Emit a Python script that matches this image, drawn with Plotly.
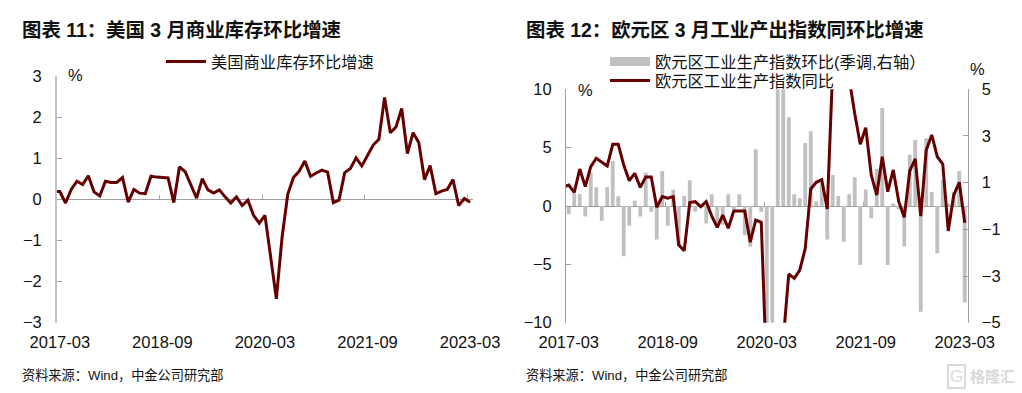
import plotly.graph_objects as go

W, H = 1022, 393
FONT = "Liberation Sans, Noto Sans CJK SC, sans-serif"
INK = "#111111"
MAROON = "#660000"
GREY_BAR = "#c0c0c0"
AXIS = "#a0a0a0"

# 2017-02 sits just left of the axis: only the clipped stub of the line shows.
months = [f"{y}-{m:02d}" for y in range(2017, 2024) for m in range(1, 13)][1:75]
tick_labels = ["2017-03", "2018-09", "2020-03", "2021-09", "2023-03"]

us_inventory_mom = [
    0.19,
    0.19, -0.09, 0.24, 0.44, 0.36, 0.57, 0.18, 0.08, 0.44, 0.41,
    0.41, 0.53, -0.07, 0.24, 0.15, 0.14, 0.56, 0.54, 0.53, 0.52,
    -0.08, 0.79, 0.67, 0.34, 0.03, 0.50, 0.23, 0.15, 0.23, 0.06,
    -0.09, 0.06, -0.15, -0.02, -0.39, -0.58, -0.39, -1.40, -2.42, -0.93,
    0.12, 0.53, 0.68, 0.93, 0.56, 0.64, 0.71, 0.66, -0.08, -0.02,
    0.65, 0.75, 1.01, 0.81, 1.05, 1.32, 1.46, 2.48, 1.62, 1.76,
    2.21, 1.11, 1.62, 1.38, 0.48, 0.82, 0.14, 0.20, 0.24, 0.48,
    -0.15, 0.02, -0.07,
]
ea_ip_mom = [
    None,
    -0.35, 0.55, 0.50, -0.45, 1.45, 0.80, -0.63, 0.80, 1.93, 0.42,
    -2.15, -0.85, 0.22, -0.45, 1.42, -0.25, -1.43, 1.50, -0.85, 0.70,
    -1.70, 0.43, 1.10, -0.25, 0.02, -0.75, 0.50, -0.75, -0.80, 0.50,
    -0.15, 0.50, -1.25, -1.75, 2.43, -0.25, -6.00, -6.00, 6.00, 6.00,
    3.80, 0.50, 0.33, 2.70, 3.20, 0.20, 1.00, -1.43, 1.33, 0.43,
    -1.53, 0.50, 1.23, -2.53, 0.71, -0.53, 1.60, 4.20, -2.53, 0.11,
    -0.13, -1.73, 2.20, 2.83, -4.53, 2.90, 0.60, -2.03, 1.10, 0.10,
    0.60, 1.50, -4.13,
]
ea_ip_yoy = [
    1.60,
    1.80, 1.17, 3.17, 1.66, 3.37, 4.09, 3.74, 3.43, 5.29, 5.29,
    3.51, 2.17, 2.80, 1.60, 2.49, 2.49, -0.11, 0.80, 0.66, 0.80,
    -3.34, -3.83, 0.29, 0.37, -0.06, 0.37, -0.86, -1.83, -0.77, -1.91,
    -0.43, -0.43, -0.43, -3.10, -1.20, -1.40, -12.90, -28.00, -20.50, -11.50,
    -5.83, -6.20, -5.49, -3.63, 1.46, 2.03, 2.26, -0.26, 11.90, 20.00,
    20.00, 10.90, 7.90, 5.29, 6.71, 2.66, 0.94, 4.23, 1.23, 3.09,
    0.37, -0.97, 3.00, 4.03, -0.86, 4.80, 6.09, 4.23, 3.60, -2.14,
    0.94, 2.03, -1.43,
]

def px(x):
    return x / W

def py(y):
    return 1 - y / H

L = dict(x0=57, x1=472.9, top=76, bot=322.6, zero=199.3)
R = dict(x0=566, x1=967.5, top=89.3, bot=322.7, zero=206)
X_RANGE = [0.5, 73.5]

fig = go.Figure()

# Left chart
fig.add_trace(go.Scatter(x=months, y=us_inventory_mom, name="美国商业库存环比增速",
                         mode="lines", xaxis="x2", yaxis="y",
                         line=dict(color=MAROON, width=3), legend="legend"))
fig.add_trace(go.Scatter(x=months, y=[None] * len(months), xaxis="x", yaxis="y",
                         showlegend=False, hoverinfo="skip"))

# Right chart: bars on right axis first so that the line stays above them
fig.add_trace(go.Bar(x=months, y=ea_ip_mom, xaxis="x3", yaxis="y3",
                     marker=dict(color=GREY_BAR, line_width=0), showlegend=False))
fig.add_trace(go.Scatter(x=[None], y=[None], xaxis="x3", yaxis="y3", mode="lines",
                         name="欧元区工业生产指数环比(季调,右轴）",
                         line=dict(color=GREY_BAR, width=9), legend="legend2"))
fig.add_trace(go.Scatter(x=months, y=[None] * len(months), xaxis="x4", yaxis="y3",
                         showlegend=False, hoverinfo="skip"))
fig.add_trace(go.Scatter(x=months, y=ea_ip_yoy, name="欧元区工业生产指数同比",
                         mode="lines", xaxis="x3", yaxis="y4",
                         line=dict(color=MAROON, width=3), legend="legend3"))

tick_font = dict(family=FONT, size=16.5, color=INK)
label_vals = [months[i] for i in range(1, 74, 18)]

def label_axis(c):
    return dict(type="category", categoryorder="array", categoryarray=months,
                domain=[px(c["x0"]), px(c["x1"])], range=X_RANGE,
                tickmode="array", tickvals=label_vals, ticktext=tick_labels,
                ticks="", showline=False, showgrid=False, zeroline=False,
                tickfont=tick_font, ticklabelstandoff=8, automargin=False)

def tick_axis(c, over):
    return dict(type="category", categoryorder="array", categoryarray=months,
                domain=[px(c["x0"]), px(c["x1"])], range=X_RANGE,
                overlaying=over, anchor="free", position=py(c["zero"]),
                tickson="boundaries", tickmode="linear", tick0=1, dtick=18,
                ticks="inside", ticklen=4, tickcolor=AXIS, tickwidth=1,
                showticklabels=False, showline=True, linecolor=AXIS, linewidth=1,
                showgrid=False, zeroline=False, layer="below traces")

def value_axis(c, lo, hi, dtick, side, linew, linecol):
    return dict(domain=[py(c["bot"]), py(c["top"])], range=[lo, hi],
                tickmode="linear", tick0=lo, dtick=dtick, side=side,
                ticks="inside", ticklen=5, tickcolor=AXIS, tickwidth=1,
                showline=True, linecolor=linecol, linewidth=linew,
                showgrid=False, zeroline=False, tickfont=tick_font,
                ticklabelstandoff=10, automargin=False)

def note(text, x, y, size, anchor="left", bold=False, color=INK, **kw):
    return dict(text=f"<b>{text}</b>" if bold else text, x=px(x), y=py(y),
                xref="paper", yref="paper", showarrow=False, xanchor=anchor,
                yanchor="middle", font=dict(family=FONT, size=size, color=color), **kw)

def legend_at(x, y):
    return dict(x=px(x), y=py(y), xanchor="left", yanchor="middle", xref="paper", yref="paper",
                itemwidth=40, font=dict(family=FONT, size=16.3, color=INK),
                bgcolor="rgba(0,0,0,0)", borderwidth=0, itemclick=False, itemdoubleclick=False)

fig.update_layout(
    width=W, height=H, margin=dict(l=0, r=0, t=0, b=0), autosize=False,
    paper_bgcolor="white", plot_bgcolor="white", bargap=0.3,
    font=dict(family=FONT, color=INK),
    xaxis=dict(label_axis(L), anchor="y"),
    xaxis2=tick_axis(L, "x"),
    yaxis=dict(value_axis(L, -3, 3, 1, "left", 2, "#c4c4c4"), anchor="x"),
    xaxis3=dict(label_axis(R), anchor="y3"),
    xaxis4=tick_axis(R, "x3"),
    yaxis3=dict(value_axis(R, -5, 5, 2, "right", 1, AXIS), anchor="x3"),
    yaxis4=dict(value_axis(R, -10, 10, 5, "left", 1, AXIS), anchor="x3", overlaying="y3"),
    legend=legend_at(161, 62),
    legend2=legend_at(605, 62),
    legend3=legend_at(605, 81),
    annotations=[
        note("图表 11：美国 3 月商业库存环比增速", 20, 29.5, 19.4, bold=True),
        note("图表 12：欧元区 3 月工业产出指数同环比增速", 524, 29.5, 19.4, bold=True),
        note("%", 75, 75, 16.5, "center"),
        note("%", 585, 90, 16.5, "center"),
        note("%", 977, 69, 16.5, "center"),
        note("资料来源：Wind，中金公司研究部", 19.5, 375, 13.2),
        note("资料来源：Wind，中金公司研究部", 523.5, 375, 13.2),
        note("G", 956.5, 376.5, 17, "center", color="#d9d9d9", bordercolor="#d9d9d9",
             borderwidth=2, borderpad=1),
        note("格隆汇", 992, 376, 15, "center", bold=True, color="#d9d9d9"),
    ],
)

fig.write_html("out.html", post_script="document.body.style.margin='0';",
               config=dict(displayModeBar=False))
